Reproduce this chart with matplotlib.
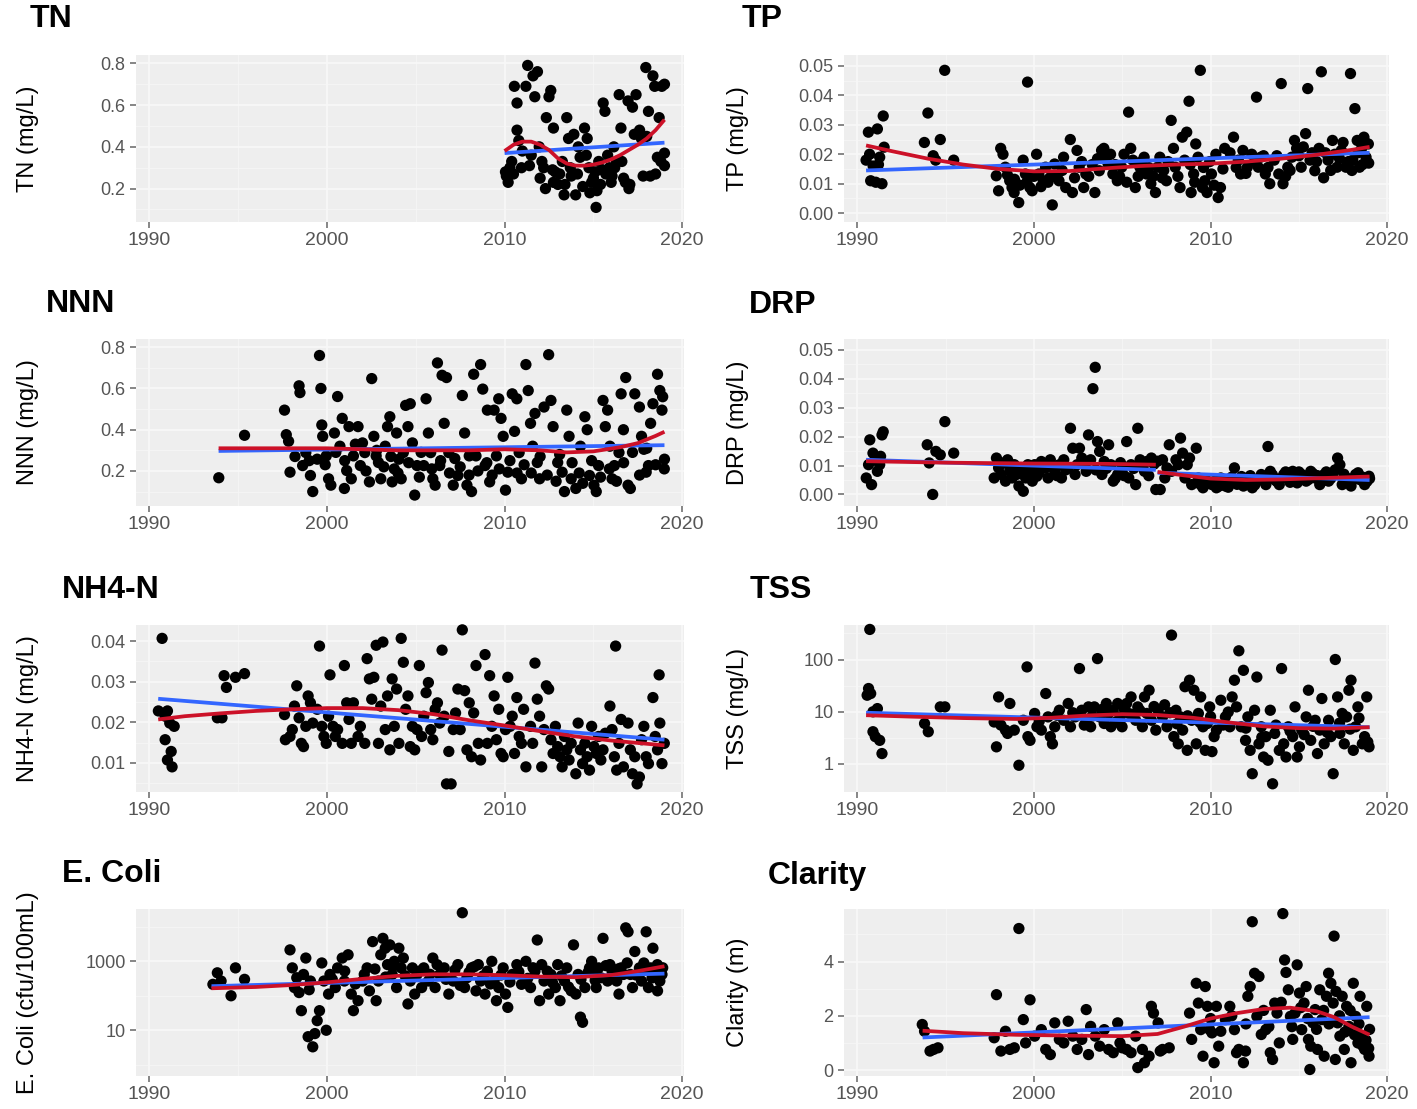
import matplotlib.pyplot as plt
import numpy as np
from matplotlib.ticker import FixedLocator, NullFormatter

plt.rcParams['font.family'] = ['Liberation Sans', 'DejaVu Sans']

# ---- data: (year, value) ----
tn_points = [
    (2010.05, 0.28), (2010.2, 0.23), (2010.4, 0.33), (2010.55, 0.69), (2010.7, 0.61), (2010.7, 0.48),
    (2010.8, 0.43), (2010.95, 0.30), (2011.2, 0.69), (2011.3, 0.79), (2011.6, 0.74), (2011.7, 0.64),
    (2011.85, 0.76), (2011.95, 0.40), (2012.1, 0.33), (2012.2, 0.30), (2012.35, 0.54), (2012.5, 0.64),
    (2012.6, 0.67), (2012.75, 0.49), (2012.75, 0.23), (2012.85, 0.28), (2013.0, 0.22), (2013.25, 0.33),
    (2013.35, 0.17), (2013.5, 0.54), (2013.6, 0.44), (2013.75, 0.26), (2014.0, 0.17), (2014.15, 0.40),
    (2014.25, 0.35), (2014.5, 0.49), (2014.65, 0.44), (2014.75, 0.30), (2014.9, 0.23), (2015.0, 0.25),
    (2015.15, 0.11), (2015.3, 0.33), (2015.4, 0.22), (2015.55, 0.61), (2015.65, 0.57), (2015.8, 0.36),
    (2015.9, 0.30), (2016.05, 0.26), (2016.15, 0.40), (2016.3, 0.33), (2016.45, 0.65), (2016.55, 0.49),
    (2016.8, 0.23), (2016.95, 0.62), (2017.05, 0.22), (2017.2, 0.59), (2017.3, 0.46), (2017.6, 0.48),
    (2017.8, 0.26), (2017.95, 0.78), (2018.1, 0.57), (2018.2, 0.26), (2018.35, 0.74), (2018.45, 0.69),
    (2018.6, 0.35), (2018.7, 0.54), (2018.85, 0.69), (2019.0, 0.31), (2019.0, 0.37),
    (2010.1, 0.26), (2010.3, 0.30), (2010.5, 0.27), (2011.0, 0.38), (2011.4, 0.31), (2011.5, 0.36),
    (2012.0, 0.25), (2012.3, 0.20), (2012.7, 0.29), (2013.1, 0.27), (2013.4, 0.22), (2013.7, 0.30),
    (2013.9, 0.46), (2014.1, 0.27), (2014.4, 0.21), (2014.6, 0.36), (2014.8, 0.18), (2015.1, 0.28),
    (2015.2, 0.19), (2015.5, 0.29), (2015.7, 0.27), (2016.0, 0.23), (2016.2, 0.30), (2016.6, 0.33),
    (2016.7, 0.25), (2017.0, 0.20), (2017.4, 0.65), (2017.7, 0.44), (2018.0, 0.45), (2018.5, 0.27),
    (2018.8, 0.33), (2019.0, 0.70),
]
tn_lm = [(2010.0, 0.37), (2019.0, 0.42)]
tn_loess = [(2010.0, 0.38), (2010.5, 0.41), (2011.0, 0.425), (2011.5, 0.425), (2012.0, 0.41),
            (2012.5, 0.385), (2013.0, 0.345), (2013.5, 0.32), (2014.0, 0.31), (2014.5, 0.31),
            (2015.0, 0.315), (2015.5, 0.325), (2016.0, 0.34), (2016.5, 0.36), (2017.0, 0.385),
            (2017.5, 0.41), (2018.0, 0.44), (2018.5, 0.48), (2019.0, 0.53)]

tp_points = [
    (1990.63, 0.0275), (1990.5, 0.018), (1990.76, 0.011), (1991.14, 0.0286), (1991.27, 0.019),
    (1991.4, 0.010), (1991.47, 0.033), (1991.52, 0.0224), (1990.9, 0.016), (1991.05, 0.0105),
    (1991.2, 0.0165), (1990.7, 0.020),
    (1993.8, 0.024), (1994.0, 0.034), (1994.3, 0.0195), (1994.44, 0.018), (1994.7, 0.025),
    (1994.95, 0.0485), (1995.46, 0.018),
    (1998.12, 0.022), (1998.25, 0.020), (1997.87, 0.0127), (1998.0, 0.0076), (1998.38, 0.0156),
    (1998.63, 0.011), (1998.76, 0.0087), (1998.88, 0.007), (1999.14, 0.0036), (1999.39, 0.018),
    (1999.52, 0.0133), (1999.64, 0.0445), (1999.77, 0.0087), (1999.9, 0.0076), (2000.15, 0.020),
    (2000.28, 0.0133), (2000.53, 0.011), (2000.66, 0.0156), (2000.9, 0.012), (2001.04, 0.0028),
    (2001.17, 0.0167), (2001.42, 0.011), (2001.68, 0.019), (2001.8, 0.0087), (2002.06, 0.025),
    (2002.18, 0.007), (2002.44, 0.0213), (2002.56, 0.0156), (2002.82, 0.0087), (2002.94, 0.0133),
    (2003.45, 0.007), (2003.7, 0.0144), (2003.83, 0.0213), (2003.96, 0.022), (2004.2, 0.0167),
    (2004.34, 0.020), (2004.47, 0.0133), (2004.72, 0.011), (2004.97, 0.0156), (2005.1, 0.020),
    (2005.36, 0.0343), (2005.48, 0.022), (2005.6, 0.018), (2005.74, 0.0087), (2006.0, 0.0156),
    (2006.24, 0.019), (2006.37, 0.0133), (2006.62, 0.010), (2006.88, 0.007), (2007.0, 0.0156),
    (2007.13, 0.019), (2007.26, 0.012), (2007.5, 0.011), (2007.77, 0.0315), (2007.9, 0.022),
    (2008.0, 0.0156), (2008.27, 0.0087), (2008.4, 0.0258), (2008.53, 0.018), (2008.65, 0.0275),
    (2008.78, 0.038), (2008.9, 0.007), (2009.04, 0.0133), (2009.16, 0.0235), (2009.29, 0.019),
    (2009.42, 0.0485), (2009.54, 0.0087), (2009.67, 0.011), (2009.8, 0.007), (2010.05, 0.0133),
    (2010.3, 0.020), (2010.43, 0.0053), (2010.56, 0.0087), (2010.8, 0.022), (2011.3, 0.0258),
    (2011.57, 0.018), (2011.7, 0.0133), (2011.83, 0.0213), (2012.08, 0.0156), (2012.33, 0.020),
    (2012.6, 0.0394), (2012.7, 0.0156), (2012.84, 0.019), (2013.1, 0.0133), (2013.35, 0.010),
    (2013.6, 0.018), (2013.86, 0.0133), (2014.0, 0.044), (2014.1, 0.010), (2014.37, 0.0156),
    (2014.6, 0.019), (2014.75, 0.0247), (2014.87, 0.022), (2015.13, 0.0156), (2015.38, 0.027),
    (2015.5, 0.0423), (2015.63, 0.018), (2015.9, 0.0144), (2016.14, 0.022), (2016.27, 0.048),
    (2016.4, 0.012), (2016.65, 0.018), (2016.9, 0.0247), (2017.03, 0.020), (2017.16, 0.0156),
    (2017.4, 0.0213), (2017.66, 0.0156), (2017.92, 0.0474), (2018.05, 0.018), (2018.17, 0.0355),
    (2018.3, 0.0247), (2018.43, 0.0156), (2018.55, 0.022), (2018.68, 0.0258), (2018.8, 0.019),
    (2018.93, 0.0235),
    (1998.5, 0.013), (1998.9, 0.0115), (1999.2, 0.0095), (1999.6, 0.0105), (2000.0, 0.0125),
    (2000.4, 0.009), (2000.8, 0.0105), (2001.3, 0.0125), (2001.6, 0.0145), (2002.3, 0.012),
    (2002.7, 0.0175), (2003.1, 0.0125), (2003.3, 0.0165), (2003.6, 0.0185), (2004.0, 0.0195),
    (2004.6, 0.0165), (2004.85, 0.0125), (2005.25, 0.0105), (2005.9, 0.0125), (2006.1, 0.0175),
    (2006.5, 0.0155), (2006.75, 0.0125), (2007.35, 0.0145), (2007.6, 0.0175), (2008.15, 0.0125),
    (2008.85, 0.0165), (2009.1, 0.0105), (2009.6, 0.0155), (2009.95, 0.0175), (2010.2, 0.0095),
    (2010.7, 0.015), (2011.1, 0.0205), (2011.45, 0.0155), (2012.0, 0.0135), (2012.5, 0.0175),
    (2013.0, 0.0195), (2013.25, 0.0155), (2013.75, 0.0195), (2014.25, 0.0125), (2014.5, 0.0145),
    (2015.0, 0.0195), (2015.25, 0.0225), (2015.75, 0.0205), (2016.0, 0.0175), (2016.5, 0.0205),
    (2016.8, 0.0145), (2017.3, 0.0185), (2017.5, 0.024), (2017.8, 0.0175), (2018.0, 0.0145),
    (2018.35, 0.0205), (2018.6, 0.0165), (2018.75, 0.024), (2018.95, 0.017),
]
tp_lm = [(1990.5, 0.0145), (2019.0, 0.0205)]
tp_loess = [(1990.5, 0.023), (1992, 0.021), (1994, 0.0185), (1996, 0.0165), (1998, 0.015),
            (2000, 0.0142), (2002, 0.0143), (2004, 0.0152), (2006, 0.016), (2008, 0.0165),
            (2010, 0.0168), (2012, 0.0175), (2014, 0.0185), (2016, 0.0198), (2018, 0.0215),
            (2019, 0.0225)]

nnn_points = [
    (1993.91, 0.167), (1995.36, 0.373),
    (1997.61, 0.495), (1997.71, 0.376), (1997.84, 0.344), (1997.92, 0.194), (1998.43, 0.613),
    (1998.48, 0.58), (1998.63, 0.226), (1998.81, 0.289), (1999.07, 0.178), (1999.2, 0.10),
    (1999.45, 0.257), (1999.58, 0.76), (1999.66, 0.60), (1999.71, 0.423), (1999.76, 0.368),
    (1999.96, 0.273), (2000.09, 0.162), (2000.22, 0.131), (2000.42, 0.384), (2000.6, 0.561),
    (2000.73, 0.32), (2000.86, 0.455), (2000.98, 0.115), (2001.11, 0.202), (2001.24, 0.415),
    (2001.37, 0.162), (2001.49, 0.273), (2001.75, 0.415), (2001.88, 0.226), (2002.0, 0.336),
    (2002.13, 0.289), (2002.39, 0.147), (2002.52, 0.648), (2002.64, 0.368), (2002.77, 0.273),
    (2002.9, 0.241), (2003.03, 0.162), (2003.28, 0.32), (2003.41, 0.415), (2003.54, 0.463),
    (2003.67, 0.147), (2003.79, 0.21), (2003.92, 0.384), (2004.05, 0.257), (2004.18, 0.162),
    (2004.3, 0.289), (2004.43, 0.518), (2004.56, 0.415), (2004.69, 0.526), (2004.81, 0.336),
    (2004.94, 0.083), (2005.07, 0.226), (2005.2, 0.17), (2005.45, 0.226), (2005.58, 0.55),
    (2005.71, 0.384), (2005.84, 0.289), (2005.96, 0.162), (2006.09, 0.131), (2006.22, 0.724),
    (2006.35, 0.226), (2006.48, 0.664), (2006.6, 0.431), (2006.73, 0.653), (2006.86, 0.289),
    (2007.11, 0.131), (2007.37, 0.178), (2007.62, 0.566), (2007.75, 0.384), (2007.88, 0.131),
    (2008.01, 0.273), (2008.14, 0.10), (2008.26, 0.669), (2008.39, 0.273), (2008.65, 0.716),
    (2008.77, 0.597), (2008.9, 0.226), (2009.03, 0.495), (2009.16, 0.147), (2009.41, 0.495),
    (2009.54, 0.273), (2009.67, 0.55), (2009.8, 0.455), (2009.92, 0.368), (2010.05, 0.107),
    (2010.18, 0.194), (2010.43, 0.574), (2010.56, 0.392), (2010.69, 0.55), (2010.82, 0.289),
    (2010.95, 0.162), (2011.2, 0.716), (2011.33, 0.59), (2011.46, 0.431), (2011.58, 0.32),
    (2011.71, 0.479), (2011.84, 0.241), (2011.97, 0.162), (2012.22, 0.51), (2012.48, 0.764),
    (2012.61, 0.542), (2012.73, 0.415), (2012.99, 0.241), (2013.24, 0.194), (2013.37, 0.10),
    (2013.5, 0.495), (2013.63, 0.368), (2013.75, 0.162), (2014.01, 0.115), (2014.27, 0.32),
    (2014.52, 0.463), (2014.65, 0.40), (2014.78, 0.178), (2015.03, 0.131), (2015.16, 0.10),
    (2015.29, 0.226), (2015.54, 0.542), (2015.67, 0.415), (2015.8, 0.495), (2015.93, 0.32),
    (2016.05, 0.162), (2016.18, 0.226), (2016.44, 0.289), (2016.56, 0.574), (2016.69, 0.40),
    (2016.82, 0.653), (2016.95, 0.131), (2017.08, 0.115), (2017.33, 0.574), (2017.59, 0.51),
    (2017.71, 0.368), (2017.84, 0.305), (2017.97, 0.194), (2018.1, 0.226), (2018.22, 0.431),
    (2018.35, 0.526), (2018.61, 0.669), (2018.74, 0.59), (2018.86, 0.495), (2018.99, 0.21),
    (2019.0, 0.257),
    (1998.2, 0.27), (1999.0, 0.25), (1999.9, 0.23), (2000.5, 0.29), (2001.0, 0.25), (2001.6, 0.33),
    (2002.2, 0.20), (2002.8, 0.30), (2003.2, 0.22), (2003.6, 0.27), (2004.0, 0.19), (2004.6, 0.24),
    (2005.3, 0.29), (2005.9, 0.21), (2006.4, 0.25), (2006.9, 0.19), (2007.2, 0.26), (2007.5, 0.22),
    (2008.0, 0.18), (2008.5, 0.20), (2009.0, 0.24), (2009.3, 0.18), (2009.7, 0.21), (2010.3, 0.25),
    (2010.7, 0.19), (2011.1, 0.23), (2011.5, 0.19), (2012.0, 0.27), (2012.4, 0.18), (2012.9, 0.15),
    (2013.1, 0.28), (2013.8, 0.24), (2014.2, 0.19), (2014.4, 0.14), (2014.9, 0.25), (2015.4, 0.17),
    (2015.9, 0.21), (2016.3, 0.15), (2016.7, 0.24), (2017.2, 0.29), (2017.6, 0.18), (2018.0, 0.31),
    (2018.5, 0.23), (2018.9, 0.56),
]
nnn_lm = [(1993.9, 0.297), (2019.0, 0.325)]
nnn_loess = [(1993.9, 0.31), (1996, 0.31), (1998, 0.31), (2000, 0.31), (2002, 0.305), (2004, 0.30),
             (2006, 0.30), (2008, 0.30), (2010, 0.305), (2012, 0.30), (2013.5, 0.29), (2015, 0.295),
             (2016.5, 0.315), (2017.5, 0.335), (2018.5, 0.37), (2019, 0.39)]

drp_points = [
    (1990.51, 0.0057), (1990.64, 0.0103), (1990.71, 0.0189), (1990.81, 0.0034), (1990.89, 0.0143),
    (1991.02, 0.012), (1991.14, 0.008), (1991.27, 0.0103), (1991.4, 0.0206), (1991.47, 0.0217),
    (1991.32, 0.0132),
    (1993.96, 0.0172), (1994.07, 0.0109), (1994.27, 0.0), (1994.45, 0.0149), (1994.7, 0.0137),
    (1994.96, 0.0252), (1995.46, 0.0143),
    (1997.75, 0.0057), (1997.88, 0.0126), (1998.0, 0.0092), (1998.13, 0.0069), (1998.26, 0.0109),
    (1998.39, 0.0046), (1998.51, 0.012), (1998.64, 0.0086), (1998.77, 0.0057), (1998.89, 0.0103),
    (1999.02, 0.0069), (1999.15, 0.0029), (1999.4, 0.0011), (1999.53, 0.0057), (1999.66, 0.0103),
    (1999.78, 0.008), (1999.91, 0.0046), (2000.04, 0.0103), (2000.17, 0.0063),
    (2000.42, 0.0114), (2000.67, 0.0092), (2000.8, 0.0057), (2000.93, 0.012), (2001.18, 0.008),
    (2001.44, 0.0103), (2001.56, 0.0057), (2001.69, 0.012), (2001.94, 0.0092), (2002.07, 0.0229),
    (2002.2, 0.016), (2002.33, 0.0069), (2002.45, 0.0103), (2002.58, 0.016), (2002.71, 0.0126),
    (2002.96, 0.008), (2003.09, 0.0206), (2003.21, 0.012), (2003.34, 0.0366), (2003.47, 0.044),
    (2003.6, 0.0183), (2003.72, 0.0149), (2003.85, 0.0069), (2003.98, 0.0114), (2004.23, 0.0172),
    (2004.36, 0.0103), (2004.49, 0.0046), (2004.74, 0.0069), (2004.99, 0.0086), (2005.25, 0.0183),
    (2005.37, 0.0057), (2005.5, 0.0103), (2005.76, 0.0034), (2005.88, 0.0229), (2006.01, 0.012),
    (2006.26, 0.008), (2006.39, 0.0114), (2006.65, 0.0126), (2006.9, 0.0017), (2007.15, 0.0017),
    (2007.28, 0.012), (2007.41, 0.0057),
    (2007.53, 0.0092), (2007.66, 0.0172), (2007.79, 0.008), (2008.04, 0.012), (2008.17, 0.0103),
    (2008.3, 0.0195), (2008.42, 0.0143), (2008.55, 0.0057), (2008.68, 0.0103), (2008.81, 0.0126),
    (2008.93, 0.0034), (2009.19, 0.016), (2009.31, 0.0057), (2009.44, 0.0034), (2009.57, 0.0023),
    (2009.82, 0.0046), (2010.08, 0.0034), (2010.33, 0.0023), (2010.58, 0.0057), (2010.84, 0.0029),
    (2011.09, 0.0046), (2011.35, 0.0092), (2011.6, 0.0046), (2011.86, 0.0029), (2012.11, 0.0057),
    (2012.36, 0.0023), (2012.62, 0.0046), (2012.87, 0.0069), (2013.13, 0.0034), (2013.25, 0.0166),
    (2013.38, 0.008), (2013.63, 0.0051), (2013.89, 0.0034), (2014.14, 0.0069), (2014.4, 0.0057),
    (2014.65, 0.008), (2014.9, 0.004), (2015.16, 0.0069), (2015.41, 0.0046), (2015.67, 0.008),
    (2015.92, 0.0057), (2016.18, 0.0034), (2016.43, 0.0069), (2016.68, 0.0046), (2016.94, 0.0074),
    (2017.19, 0.0126), (2017.32, 0.0103), (2017.45, 0.0034), (2017.7, 0.0057), (2017.95, 0.0029),
    (2018.21, 0.0069), (2018.46, 0.0051), (2018.72, 0.0034), (2018.97, 0.0063),
    (2009.7, 0.0035), (2010.2, 0.0045), (2010.45, 0.0028), (2010.7, 0.004), (2011.0, 0.0025),
    (2011.2, 0.006), (2011.5, 0.0035), (2011.75, 0.0062), (2012.0, 0.004), (2012.25, 0.0065),
    (2012.5, 0.0033), (2012.75, 0.0055), (2013.0, 0.0062), (2013.5, 0.0068), (2013.75, 0.0045),
    (2014.0, 0.0055), (2014.25, 0.0078), (2014.5, 0.0042), (2014.75, 0.0065), (2015.0, 0.0078),
    (2015.3, 0.0062), (2015.55, 0.0052), (2015.8, 0.0072), (2016.05, 0.0065), (2016.3, 0.0045),
    (2016.55, 0.0078), (2016.8, 0.0055), (2017.05, 0.0085), (2017.55, 0.007), (2017.8, 0.0045),
    (2018.1, 0.0052), (2018.35, 0.0075), (2018.6, 0.006), (2018.85, 0.0045), (2019.0, 0.0055),
    (1998.7, 0.0075), (1999.3, 0.0085), (2000.3, 0.0075), (2000.55, 0.0105), (2001.3, 0.0065),
    (2001.8, 0.0085), (2002.9, 0.0105), (2003.5, 0.0085), (2004.1, 0.009), (2004.6, 0.0055),
    (2004.9, 0.011), (2005.1, 0.0065), (2005.65, 0.009), (2006.15, 0.0095), (2006.5, 0.0065),
    (2006.8, 0.0105), (2007.0, 0.0115),
]
drp_lm = [[(1990.5, 0.0120), (2006.9, 0.0085)], [(2007.0, 0.0075), (2019.0, 0.0050)]]
drp_loess = [[(1990.5, 0.0115), (1995, 0.011), (2000, 0.0107), (2004, 0.0106), (2006.9, 0.0103)],
             [(2007.0, 0.0078), (2008.5, 0.0066), (2010, 0.0055), (2012, 0.005), (2014, 0.0052),
              (2016, 0.0056), (2019, 0.0062)]]

nh4_points = [
    (1990.72, 0.0407), (1990.51, 0.0228), (1990.89, 0.0215), (1991.02, 0.0228), (1991.15, 0.0198),
    (1990.89, 0.0157), (1991.02, 0.0107), (1991.28, 0.009), (1991.23, 0.0128), (1991.4, 0.019),
    (1993.83, 0.0211), (1994.09, 0.0211), (1994.21, 0.0315), (1994.34, 0.0286), (1994.85, 0.0311),
    (1995.36, 0.032),
    (1997.61, 0.0219), (1997.66, 0.0157), (1997.92, 0.0165), (1998.05, 0.0182), (1998.17, 0.024),
    (1998.3, 0.029), (1998.43, 0.0211), (1998.56, 0.0148), (1998.68, 0.014), (1998.81, 0.019),
    (1998.94, 0.0265), (1999.07, 0.0248), (1999.2, 0.0198), (1999.45, 0.0232), (1999.58, 0.0388),
    (1999.71, 0.019), (1999.83, 0.0165), (1999.96, 0.0148), (2000.09, 0.0215), (2000.17, 0.0317),
    (2000.34, 0.019), (2000.47, 0.0165), (2000.6, 0.0182), (2000.86, 0.0148), (2000.98, 0.034),
    (2001.11, 0.0248), (2001.24, 0.0207), (2001.37, 0.0148), (2001.49, 0.0248), (2001.75, 0.0165),
    (2001.88, 0.019), (2002.13, 0.0148), (2002.26, 0.0357), (2002.39, 0.0307), (2002.52, 0.0257),
    (2002.64, 0.0311), (2002.77, 0.039), (2002.9, 0.0148), (2003.03, 0.024), (2003.15, 0.0398),
    (2003.28, 0.0182), (2003.41, 0.0265), (2003.54, 0.0132), (2003.67, 0.0307), (2003.79, 0.019),
    (2003.92, 0.0282), (2004.05, 0.0148), (2004.18, 0.0407), (2004.3, 0.0348), (2004.43, 0.0232),
    (2004.56, 0.0265), (2004.69, 0.014), (2004.81, 0.019), (2004.94, 0.0132), (2005.07, 0.0182),
    (2005.2, 0.034), (2005.33, 0.0165), (2005.45, 0.0215), (2005.58, 0.0273), (2005.71, 0.0298),
    (2005.84, 0.0182), (2005.96, 0.0157), (2006.09, 0.0232), (2006.22, 0.0248), (2006.35, 0.0198),
    (2006.48, 0.0378), (2006.6, 0.0215), (2006.73, 0.0048), (2006.86, 0.0128), (2006.99, 0.0048),
    (2007.11, 0.0182), (2007.24, 0.0223), (2007.37, 0.0282), (2007.5, 0.0182), (2007.62, 0.0428),
    (2007.75, 0.0278), (2007.88, 0.0132), (2008.01, 0.0248), (2008.14, 0.0115), (2008.26, 0.0223),
    (2008.39, 0.034), (2008.52, 0.0148), (2008.65, 0.0107), (2008.9, 0.0367), (2009.03, 0.0148),
    (2009.16, 0.0315), (2009.28, 0.019), (2009.41, 0.0265), (2009.54, 0.0157), (2009.67, 0.0232),
    (2009.8, 0.0123), (2009.92, 0.0115), (2010.05, 0.0182), (2010.18, 0.0311), (2010.31, 0.019),
    (2010.43, 0.0215), (2010.56, 0.0123), (2010.69, 0.0261), (2010.82, 0.0165), (2010.95, 0.0148),
    (2011.07, 0.0232), (2011.2, 0.009), (2011.46, 0.019), (2011.58, 0.0148), (2011.71, 0.0346),
    (2011.84, 0.0257), (2011.97, 0.0215), (2012.09, 0.009), (2012.22, 0.0182), (2012.35, 0.029),
    (2012.48, 0.0282), (2012.61, 0.0157), (2012.73, 0.0123), (2012.86, 0.019), (2012.99, 0.014),
    (2013.12, 0.0115), (2013.24, 0.009), (2013.37, 0.0165), (2013.5, 0.0132), (2013.63, 0.0107),
    (2013.75, 0.0148), (2014.01, 0.0073), (2014.14, 0.0198), (2014.27, 0.0132), (2014.39, 0.0098),
    (2014.52, 0.0148), (2014.65, 0.0115), (2014.78, 0.0082), (2014.9, 0.019), (2015.03, 0.014),
    (2015.16, 0.0123), (2015.29, 0.0165), (2015.42, 0.0107), (2015.54, 0.0132), (2015.67, 0.0173),
    (2016.25, 0.0388), (2015.93, 0.024), (2016.05, 0.0182), (2016.18, 0.0115), (2016.31, 0.0082),
    (2016.44, 0.0148), (2016.56, 0.0207), (2016.69, 0.009), (2018.7, 0.0317), (2016.95, 0.0198),
    (2017.08, 0.0132), (2017.2, 0.0073), (2017.33, 0.0115), (2017.46, 0.0048), (2017.59, 0.0065),
    (2017.71, 0.0157), (2017.84, 0.019), (2017.97, 0.0115), (2018.1, 0.0098), (2018.35, 0.0261),
    (2018.48, 0.0165), (2018.61, 0.0132), (2018.74, 0.0198), (2018.86, 0.0098), (2018.99, 0.0148),
]
nh4_lm = [(1990.5, 0.0258), (2019.0, 0.0157)]
nh4_loess = [(1990.5, 0.0207), (1992, 0.0215), (1994, 0.0222), (1996, 0.0228), (1998, 0.0232),
             (2000, 0.0235), (2002, 0.0235), (2004, 0.023), (2006, 0.022), (2008, 0.0205),
             (2010, 0.0192), (2012, 0.0178), (2014, 0.0165), (2016, 0.0155), (2018, 0.0147),
             (2019, 0.0143)]

tss_points = [
    (1990.71, 378), (1990.64, 27.7), (1990.56, 20.6), (1990.76, 22.2), (1990.89, 9.9), (1990.89, 4.1),
    (1991.02, 3.3), (1991.27, 2.8), (1991.4, 1.56), (1991.14, 11.4),
    (1993.81, 5.9), (1994.02, 4.1), (1994.7, 12.3), (1994.96, 12.3),
    (1997.75, 6.3), (1997.88, 2.1), (1998.0, 19.1), (1998.13, 5.5), (1998.39, 4.4), (1998.51, 3.8),
    (1998.64, 14.3), (1998.89, 4.4), (1999.15, 0.93), (1999.4, 6.8), (1999.61, 72), (1999.66, 3.3),
    (1999.78, 2.8), (2000.04, 9.2), (2000.17, 5.1), (2000.42, 4.4), (2000.67, 22.2), (2000.8, 7.9),
    (2000.93, 3.3), (2001.05, 2.4), (2001.18, 5.1), (2001.44, 10.6), (2001.69, 6.8), (2001.94, 14.3),
    (2002.07, 5.1), (2002.33, 7.9), (2002.58, 67), (2002.71, 10.6), (2002.96, 6.8), (2003.09, 12.3),
    (2003.21, 5.1), (2003.42, 12.3), (2003.6, 104), (2003.72, 7.9), (2003.98, 5.9), (2004.1, 14.3),
    (2004.23, 9.2), (2004.36, 5.1), (2004.49, 10.6), (2004.74, 14.3), (2004.87, 7.9), (2004.99, 5.1),
    (2005.25, 14.3), (2005.37, 9.2), (2005.5, 19.1), (2005.76, 6.8), (2005.88, 12.3), (2006.14, 5.1),
    (2006.26, 19.1), (2006.39, 9.2), (2006.52, 25.7), (2006.65, 6.8), (2006.9, 4.4), (2007.03, 10.6),
    (2007.28, 7.9), (2007.53, 5.1), (2007.79, 294), (2007.92, 3.3), (2008.04, 10.6), (2008.17, 2.4),
    (2008.3, 7.9), (2008.42, 4.4), (2008.55, 30), (2008.68, 1.8), (2008.81, 40), (2008.93, 6.8),
    (2009.06, 25.7), (2009.19, 2.4), (2009.31, 9.2), (2009.44, 19.1), (2009.57, 5.1), (2009.7, 1.8),
    (2009.82, 5.9), (2009.95, 12.3), (2010.08, 1.7), (2010.2, 3.3), (2010.33, 4.4), (2010.58, 16.5),
    (2010.84, 7.9), (2011.09, 5.1), (2011.22, 19.1), (2011.35, 40), (2011.47, 12.3), (2011.6, 147),
    (2011.73, 5.1), (2011.86, 62), (2011.98, 2.8), (2012.11, 7.9), (2012.24, 1.8), (2012.36, 0.64),
    (2012.49, 10.6), (2012.62, 46), (2012.74, 2.4), (2012.87, 5.1), (2013.0, 1.34), (2013.13, 3.3),
    (2013.25, 1.16), (2013.38, 10.6), (2013.51, 0.41), (2013.63, 3.8), (2013.89, 1.8), (2014.02, 67),
    (2014.14, 2.4), (2014.27, 1.34), (2014.4, 5.1), (2014.65, 3.3), (2014.78, 12.3), (2014.9, 1.34),
    (2015.03, 2.1), (2015.16, 4.4), (2015.41, 7.9), (2015.54, 25.7), (2015.67, 2.8), (2015.92, 6.8),
    (2016.05, 1.56), (2016.18, 4.4), (2016.3, 17.8), (2016.43, 2.4), (2016.68, 6.8), (2016.81, 3.3),
    (2016.94, 0.64), (2017.06, 100), (2017.19, 19.1), (2017.32, 3.8), (2017.45, 9.2), (2017.57, 2.4),
    (2017.7, 7.9), (2017.83, 25.7), (2017.95, 40), (2018.08, 1.8), (2018.21, 5.1), (2018.34, 12.3),
    (2018.59, 2.4), (2018.72, 3.3), (2018.84, 19.1), (2018.97, 2.1),
    (2000.3, 6.5), (2001.3, 8.5), (2002.2, 9.5), (2002.85, 5.5), (2003.3, 8.2), (2003.85, 11),
    (2004.6, 6.2), (2005.1, 11.5), (2005.6, 8.8), (2006.0, 10.5), (2006.8, 12.5), (2007.4, 13.5),
    (2007.7, 9.5), (2008.1, 5.8), (2008.7, 8.3), (2009.4, 6.2), (2010.0, 8.0), (2010.7, 5.5),
    (2011.0, 9.8), (2012.0, 4.8), (2012.9, 3.2), (2013.7, 5.5), (2014.5, 4.2), (2015.3, 3.6),
    (2015.8, 5.2), (2016.6, 4.0), (2017.3, 6.0), (2017.9, 4.6), (2018.4, 7.5), (2018.9, 2.6),
]
tss_lm = [(1990.5, 9.5), (2019.0, 5.0)]
tss_loess = [(1990.5, 8.5), (1993, 8.0), (1996, 7.5), (1999, 7.2), (2001, 7.6), (2003, 8.4),
             (2005, 8.9), (2007, 8.6), (2009, 7.6), (2011, 6.2), (2013, 5.2), (2015, 4.8),
             (2017, 4.7), (2019, 5.0)]

ecoli_points = [
    (1993.58, 215), (1993.83, 464), (1994.04, 268), (1994.6, 100), (1994.85, 645), (1995.36, 300),
    (1997.92, 2150), (1998.05, 645), (1998.17, 173), (1998.3, 334), (1998.43, 124), (1998.56, 37),
    (1998.68, 416), (1998.81, 1245), (1998.94, 6.5), (1999.07, 268), (1999.2, 3.3), (1999.32, 8),
    (1999.45, 19), (1999.58, 37), (1999.71, 896), (1999.83, 268), (1999.96, 10), (2000.09, 112),
    (2000.17, 416), (2000.47, 173), (2000.6, 645), (2000.86, 1245), (2000.98, 268), (2001.19, 1550),
    (2001.37, 112), (2001.49, 37), (2001.75, 72), (2002.01, 268), (2002.26, 645), (2002.39, 139),
    (2002.57, 3730), (2002.77, 72), (2002.9, 268), (2003.03, 1550), (2003.15, 4640), (2003.28, 2400),
    (2003.41, 803), (2003.54, 3000), (2003.67, 416), (2003.79, 1000), (2003.92, 173), (2004.05, 2400),
    (2004.18, 645), (2004.3, 1245), (2004.56, 58), (2004.69, 268), (2004.81, 645), (2004.94, 112),
    (2005.07, 416), (2005.33, 173), (2005.45, 645), (2005.71, 268), (2005.96, 1245), (2006.09, 173),
    (2006.35, 416), (2006.6, 645), (2006.86, 112), (2007.11, 268), (2007.37, 803), (2007.62, 25700),
    (2007.75, 173), (2007.88, 334), (2008.14, 645), (2008.39, 139), (2008.52, 803), (2008.65, 268),
    (2008.9, 112), (2009.03, 518), (2009.28, 1000), (2009.41, 268), (2009.54, 72), (2009.67, 173),
    (2009.92, 645), (2010.05, 112), (2010.18, 46), (2010.43, 416), (2010.69, 803), (2010.95, 215),
    (2011.2, 1000), (2011.46, 173), (2011.71, 518), (2011.84, 4160), (2011.97, 72), (2012.09, 803),
    (2012.22, 268), (2012.48, 112), (2012.61, 416), (2012.86, 173), (2012.99, 803), (2013.12, 72),
    (2013.37, 268), (2013.5, 645), (2013.75, 139), (2013.88, 3000), (2014.01, 112), (2014.14, 416),
    (2014.27, 24), (2014.39, 17), (2014.52, 173), (2014.78, 645), (2014.9, 1000), (2015.03, 416),
    (2015.16, 173), (2015.29, 645), (2015.42, 334), (2015.54, 4640), (2015.8, 268), (2015.93, 803),
    (2016.05, 518), (2016.31, 268), (2016.44, 112), (2016.56, 645), (2016.69, 416), (2016.82, 9360),
    (2016.95, 7200), (2017.08, 416), (2017.2, 173), (2017.33, 1930), (2017.59, 645), (2017.71, 268),
    (2017.84, 896), (2017.97, 7200), (2018.1, 173), (2018.22, 645), (2018.35, 2400), (2018.48, 416),
    (2018.61, 139), (2018.74, 268), (2018.86, 416),
    (1999.0, 150), (2000.3, 300), (2001.0, 520), (2001.6, 220), (2002.1, 420), (2002.7, 600),
    (2003.3, 350), (2003.7, 700), (2004.4, 380), (2005.2, 520), (2005.8, 420), (2006.2, 800),
    (2006.7, 300), (2007.2, 560), (2007.5, 200), (2008.0, 480), (2008.3, 700), (2008.8, 380),
    (2009.2, 220), (2009.8, 400), (2010.3, 250), (2010.8, 500), (2011.3, 320), (2011.6, 650),
    (2012.4, 520), (2012.7, 240), (2013.2, 380), (2013.6, 180), (2014.3, 300), (2014.7, 480),
    (2015.1, 280), (2015.7, 750), (2016.1, 350), (2016.4, 600), (2016.9, 900), (2017.4, 400),
    (2017.9, 560), (2018.3, 330), (2018.6, 800), (2018.9, 650),
]
ecoli_lm = [(1993.5, 190), (2019.0, 440)]
ecoli_loess = [(1993.5, 165), (1996, 180), (1998, 205), (2000, 245), (2002, 310), (2004, 380),
               (2006, 420), (2008, 420), (2010, 395), (2012, 360), (2014, 345), (2016, 400),
               (2017.5, 520), (2019, 720)]

clarity_points = [
    (1993.68, 1.68), (1993.81, 1.43), (1994.12, 0.70), (1994.32, 0.76), (1994.57, 0.82),
    (1997.75, 1.19), (1997.88, 2.78), (1998.13, 0.70), (1998.39, 1.43), (1998.64, 0.76), (1998.89, 0.82),
    (1999.15, 5.22), (1999.4, 1.86), (1999.53, 1.0), (1999.78, 2.59), (2000.04, 1.25), (2000.42, 1.49),
    (2000.67, 0.76), (2000.93, 0.57), (2001.18, 1.74), (2001.44, 1.13), (2001.69, 1.0), (2001.94, 1.8),
    (2002.2, 1.25), (2002.45, 0.76), (2002.71, 1.13), (2002.96, 2.23), (2003.09, 0.57), (2003.21, 1.61),
    (2003.47, 1.25), (2003.72, 0.88), (2003.98, 1.49), (2004.23, 0.76), (2004.49, 0.64), (2004.74, 1.74),
    (2004.87, 1.0), (2004.99, 0.82), (2005.25, 0.76), (2005.5, 0.64), (2005.76, 1.25), (2005.88, 0.09),
    (2006.14, 0.76), (2006.26, 0.27), (2006.52, 0.51), (2006.65, 2.35), (2006.77, 2.1), (2007.03, 1.74),
    (2007.15, 0.70), (2007.28, 0.76), (2007.66, 0.82),
    (2008.81, 2.1), (2008.93, 1.13), (2009.19, 3.2), (2009.31, 2.47), (2009.44, 1.49), (2009.57, 0.51),
    (2009.7, 3.08), (2009.82, 2.35), (2009.95, 1.49), (2010.08, 1.37), (2010.2, 0.27), (2010.33, 2.35),
    (2010.46, 0.88), (2010.58, 1.43), (2010.84, 1.86), (2011.09, 2.35), (2011.35, 1.49), (2011.47, 0.64),
    (2011.6, 0.76), (2011.86, 0.27), (2011.98, 0.70), (2012.11, 2.72), (2012.24, 3.08), (2012.36, 5.47),
    (2012.49, 3.57), (2012.62, 1.98), (2012.74, 3.45), (2012.87, 1.31), (2013.13, 1.49), (2013.38, 0.64),
    (2013.51, 0.39), (2013.63, 2.47), (2013.76, 2.1), (2013.89, 1.0), (2014.09, 5.77), (2014.19, 4.06),
    (2014.27, 3.6), (2014.4, 2.96), (2014.52, 1.98), (2014.65, 1.13), (2014.78, 2.1), (2014.9, 3.88),
    (2015.03, 2.84), (2015.16, 1.49), (2015.29, 2.47), (2015.41, 3.08), (2015.54, 1.13), (2015.62, 0.02),
    (2015.67, 0.88), (2015.79, 1.74), (2015.92, 2.23), (2016.05, 0.76), (2016.18, 2.96), (2016.3, 1.86),
    (2016.43, 0.51), (2016.56, 2.72), (2016.68, 3.57), (2016.81, 3.2), (2016.94, 2.47), (2016.99, 4.94),
    (2017.06, 0.39), (2017.19, 1.74), (2017.32, 1.25), (2017.45, 2.72), (2017.57, 0.76), (2017.7, 2.35),
    (2017.83, 1.61), (2017.95, 0.27), (2018.08, 3.2), (2018.21, 1.98), (2018.34, 1.0), (2018.46, 2.72),
    (2018.59, 1.25), (2018.72, 0.76), (2018.84, 2.35), (2018.97, 0.51),
    (2010.0, 1.9), (2011.2, 2.0), (2012.0, 1.7), (2013.0, 2.2), (2013.3, 1.6), (2014.0, 2.5),
    (2014.6, 1.6), (2015.1, 2.3), (2015.5, 1.9), (2016.0, 1.5), (2016.4, 2.2), (2016.7, 1.7),
    (2017.1, 2.9), (2017.3, 2.0), (2017.6, 1.4), (2017.9, 2.2), (2018.15, 1.3), (2018.4, 1.7),
    (2018.6, 0.9), (2018.8, 1.1), (2018.95, 0.8), (2019.0, 1.5),
]
clarity_lm = [(1993.7, 1.2), (2019.0, 1.95)]
clarity_loess = [(1993.7, 1.45), (1996, 1.36), (1999, 1.3), (2002, 1.27), (2005, 1.25), (2007, 1.33),
                 (2008.5, 1.6), (2010, 1.9), (2011.5, 2.1), (2013, 2.25), (2014.5, 2.3), (2016, 2.17),
                 (2017, 1.95), (2018, 1.6), (2019, 1.3)]

x_ticks = [1990, 2000, 2010, 2020]
x_minor = [1995, 2005, 2015]

tn_ticks = [0.2, 0.4, 0.6, 0.8]
tn_labels = ['0.2', '0.4', '0.6', '0.8']
p_ticks = [0.0, 0.01, 0.02, 0.03, 0.04, 0.05]
p_labels = ['0.00', '0.01', '0.02', '0.03', '0.04', '0.05']
nh4_ticks = [0.01, 0.02, 0.03, 0.04]
nh4_labels = ['0.01', '0.02', '0.03', '0.04']
tss_ticks = [1, 10, 100]
tss_labels = ['1', '10', '100']
ecoli_ticks = [10, 1000]
ecoli_labels = ['10', '1000']
clarity_ticks = [0, 2, 4]
clarity_labels = ['0', '2', '4']

panels = [
    dict(title='TN', ylabel='TN (mg/L)', pts=tn_points, lm=[tn_lm], lo=[tn_loess],
         ticks=tn_ticks, labels=tn_labels, minor=[0.1, 0.3, 0.5, 0.7], ylim=(0.04, 0.84), log=False),
    dict(title='TP', ylabel='TP (mg/L)', pts=tp_points, lm=[tp_lm], lo=[tp_loess],
         ticks=p_ticks, labels=p_labels, minor=[0.005, 0.015, 0.025, 0.035, 0.045], ylim=(-0.003, 0.0537), log=False),
    dict(title='NNN', ylabel='NNN (mg/L)', pts=nnn_points, lm=[nnn_lm], lo=[nnn_loess],
         ticks=tn_ticks, labels=tn_labels, minor=[0.1, 0.3, 0.5, 0.7], ylim=(0.03, 0.84), log=False),
    dict(title='DRP', ylabel='DRP (mg/L)', pts=drp_points, lm=drp_lm, lo=drp_loess,
         ticks=p_ticks, labels=p_labels, minor=[0.005, 0.015, 0.025, 0.035, 0.045], ylim=(-0.004, 0.0538), log=False),
    dict(title='NH4-N', ylabel='NH4-N (mg/L)', pts=nh4_points, lm=[nh4_lm], lo=[nh4_loess],
         ticks=nh4_ticks, labels=nh4_labels, minor=[0.005, 0.015, 0.025, 0.035], ylim=(0.0028, 0.044), log=False),
    dict(title='TSS', ylabel='TSS (mg/L)', pts=tss_points, lm=[tss_lm], lo=[tss_loess],
         ticks=tss_ticks, labels=tss_labels, minor=[10 ** 0.5, 10 ** 1.5, 10 ** 2.5], ylim=(0.285, 460), log=True),
    dict(title='E. Coli', ylabel='E. Coli (cfu/100mL)', pts=ecoli_points, lm=[ecoli_lm], lo=[ecoli_loess],
         ticks=ecoli_ticks, labels=ecoli_labels, minor=[1, 100, 10000], ylim=(0.47, 33000), log=True),
    dict(title='Clarity', ylabel='Clarity (m)', pts=clarity_points, lm=[clarity_lm], lo=[clarity_loess],
         ticks=clarity_ticks, labels=clarity_labels, minor=[1, 3, 5], ylim=(-0.22, 5.94), log=False),
]

# ---- layout in pixels ----
W, H = 1417, 1109
col_x = [136, 844]
col_w = [548, 545]
row_top = [55, 339, 625, 909]
ph = 167
title_xy = [(30, 19), (742, 19), (46, 304), (749, 305), (62, 590), (750, 590), (62, 874), (768, 876)]
ylab_x = [28, 738]

fig = plt.figure(figsize=(W / 100, H / 100), dpi=100)

for i, p in enumerate(panels):
    c, r = i % 2, i // 2
    ax = fig.add_axes([col_x[c] / W, 1 - (row_top[r] + ph) / H, col_w[c] / W, ph / H])
    ax.set_facecolor('#EEEEEE')
    for s in ax.spines.values():
        s.set_visible(False)
    if p['log']:
        ax.set_yscale('log')
    ax.set_xlim(1989.25, 2020.1)
    ax.set_ylim(*p['ylim'])

    ax.xaxis.set_major_locator(FixedLocator(x_ticks))
    ax.xaxis.set_minor_locator(FixedLocator(x_minor))
    ax.set_xticklabels([str(t) for t in x_ticks])
    ax.yaxis.set_major_locator(FixedLocator(p['ticks']))
    ax.yaxis.set_minor_locator(FixedLocator(p['minor']))
    ax.set_yticklabels(p['labels'])
    ax.yaxis.set_minor_formatter(NullFormatter())

    ax.grid(which='major', color='#F8F8F8', linewidth=1.2)
    ax.grid(which='minor', color='#F6F6F6', linewidth=0.6)
    ax.set_axisbelow(True)
    ax.tick_params(which='major', length=4.5, width=1.1, color='#666666', pad=3)
    ax.tick_params(which='minor', length=0)
    ax.tick_params(axis='x', labelsize=14, labelcolor='#555555')
    ax.tick_params(axis='y', labelsize=13, labelcolor='#555555')

    xy = np.array(p['pts'])
    ax.scatter(xy[:, 0], xy[:, 1], s=66, color='black', edgecolors='none', zorder=2, clip_on=False)
    for seg in p['lm']:
        seg = np.array(seg)
        ax.plot(seg[:, 0], seg[:, 1], color='#3366FF', linewidth=2.7, zorder=3, solid_capstyle='butt')
    for seg in p['lo']:
        seg = np.array(seg)
        ax.plot(seg[:, 0], seg[:, 1], color='#CC1128', linewidth=2.7, zorder=4, solid_capstyle='butt')

    tx, ty = title_xy[i]
    fig.text(tx / W, 1 - ty / H, p['title'], fontsize=23, fontweight='bold', ha='left', va='center')
    fig.text(ylab_x[c] / W, 1 - (row_top[r] + ph / 2) / H, p['ylabel'], fontsize=17,
             rotation=90, ha='center', va='center')

fig.savefig('out.png', dpi=100)
